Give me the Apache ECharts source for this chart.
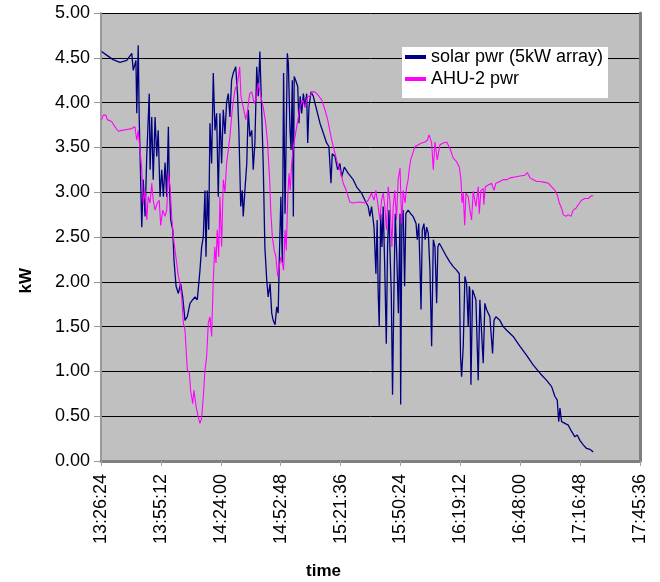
<!DOCTYPE html>
<html>
<head>
<meta charset="utf-8">
<script src="https://cdn.jsdelivr.net/npm/echarts@6/dist/echarts.min.js"></script>
<style>
	html, body { margin: 0; padding: 0; background: #fff; }
	#main { width: 660px; height: 582px; }
</style>
</head>
<body>
<div id="main"></div>
<script>
// times are minutes after 13:00, values in kW
var solarMin = [26.7, 29.1, 32.2, 35.5, 38.8, 41.2, 41.9, 43.2, 43.6, 44.3, 44.8, 46.0, 46.7, 47.6, 48.4, 49.6, 50.0, 50.8, 51.5, 52.4,
	53.2, 53.9, 54.8, 55.6, 56.4, 57.2, 58.0, 58.8, 59.2, 59.9, 60.9, 61.5, 62.5, 63.6, 64.7, 65.7, 66.8, 67.9, 69.2, 70.5,
	71.6, 72.7, 74.0, 74.8, 75.6, 76.4, 76.9, 77.5, 78.2, 78.8, 79.6, 80.4, 81.2, 82.0, 82.8, 83.6, 84.4, 85.2, 86.0, 86.8,
	87.6, 88.4, 89.2, 90.0, 91.2, 92.1, 92.7, 93.6, 94.3, 94.8, 95.6, 96.5, 97.2, 98.0, 98.9, 99.6, 100.4, 101.3, 102.0, 102.8,
	103.7, 104.4, 105.2, 106.1, 106.8, 107.7, 108.5, 109.2, 110.1, 110.9, 111.6, 112.1, 112.9, 113.6, 114.2, 114.9, 115.5, 116.0, 116.5, 117.3,
	117.8, 118.4, 118.9, 119.3, 120.0, 121.0, 121.6, 122.2, 122.9, 123.7, 124.5, 125.3, 125.8, 126.4, 127.4, 128.5, 130.1, 131.7, 133.3, 134.9,
	136.0, 137.0, 137.6, 138.9, 140.2, 141.3, 142.1, 143.4, 145.3, 147.7, 149.3, 151.7, 153.3, 154.9, 155.7, 156.5, 157.7, 158.6, 159.2, 159.7,
	160.2, 160.9, 161.5, 162.1, 162.8, 163.6, 164.2, 164.9, 165.4, 166.0, 166.6, 167.3, 167.9, 168.6, 169.4, 170.2, 170.5, 171.1, 171.7, 172.4,
	173.0, 174.1, 175.3, 176.5, 177.9, 178.5, 179.2, 179.8, 180.3, 180.9, 181.7, 182.3, 183.0, 183.8, 184.6, 185.4, 186.2, 187.0, 187.8, 188.4,
	189.1, 191.0, 192.6, 194.2, 195.8, 197.4, 198.7, 199.3, 199.8, 200.6, 201.4, 202.2, 203.0, 203.5, 203.8, 204.3, 205.1, 205.9, 206.7, 207.8,
	208.6, 209.4, 210.2, 211.0, 211.8, 212.6, 213.4, 214.2, 214.7, 215.4, 216.3, 218.2, 219.8, 221.5, 224.6, 227.9, 231.1, 234.3, 237.5, 240.7,
	243.1, 244.7, 245.8, 246.5, 247.1, 247.9, 249.5, 251.1, 252.7, 254.3, 255.4, 256.7, 258.3, 259.9, 261.5, 263.1];
var solarKw = [4.57, 4.53, 4.48, 4.45, 4.47, 4.55, 4.36, 4.47, 3.88, 4.64, 3.80, 2.61, 3.14, 2.73, 3.40, 4.10, 3.25, 3.84, 3.14, 3.84,
	3.40, 3.69, 2.95, 3.25, 2.95, 3.33, 2.95, 3.73, 3.17, 2.69, 2.58, 2.24, 1.95, 1.87, 1.98, 1.83, 1.57, 1.61, 1.76, 1.80,
	1.83, 1.80, 2.13, 2.39, 2.50, 3.02, 2.28, 3.02, 2.58, 3.77, 3.32, 4.33, 3.69, 3.88, 2.95, 3.88, 3.32, 3.92, 3.65, 4.00,
	4.10, 3.84, 4.25, 4.33, 4.40, 4.07, 3.69, 2.84, 3.02, 2.73, 3.02, 3.32, 3.92, 3.62, 3.69, 3.25, 3.55, 4.40, 4.07, 4.57,
	3.88, 3.32, 2.39, 2.02, 1.83, 1.98, 1.65, 1.57, 1.52, 1.72, 1.65, 2.21, 2.95, 2.21, 4.33, 2.76, 3.69, 4.55, 4.44, 3.69,
	3.47, 4.25, 2.73, 4.29, 4.25, 4.18, 3.77, 4.07, 3.88, 4.10, 3.95, 4.10, 3.55, 3.95, 4.12, 4.07, 3.92, 3.77, 3.66, 3.55,
	3.51, 3.10, 3.43, 3.40, 3.25, 3.32, 3.17, 3.28, 3.21, 3.14, 3.06, 2.99, 2.91, 2.84, 2.73, 2.84, 2.61, 2.09, 2.69, 1.87,
	1.50, 2.76, 2.39, 2.84, 2.21, 1.31, 2.39, 2.80, 2.32, 1.87, 0.74, 1.95, 2.76, 2.32, 1.65, 2.76, 0.63, 2.69, 2.80, 1.95,
	2.76, 2.80, 2.76, 2.73, 2.65, 2.47, 2.65, 2.17, 1.69, 2.58, 2.65, 2.47, 2.61, 2.54, 2.13, 1.28, 2.47, 2.39, 1.76, 2.39,
	2.43, 2.35, 2.28, 2.22, 2.17, 2.13, 2.09, 1.16, 0.94, 1.28, 2.06, 1.98, 1.50, 1.95, 1.91, 0.85, 1.91, 1.93, 1.80, 0.90,
	1.80, 1.78, 1.09, 1.76, 1.69, 1.69, 1.61, 1.59, 1.20, 1.57, 1.61, 1.57, 1.50, 1.46, 1.39, 1.28, 1.18, 1.07, 0.98, 0.90,
	0.83, 0.72, 0.68, 0.44, 0.59, 0.44, 0.42, 0.40, 0.33, 0.27, 0.29, 0.23, 0.18, 0.14, 0.13, 0.10];

var ahuMin = [26.7, 27.5, 28.8, 29.4, 31.5, 33.1, 34.7, 36.4, 38.8, 41.2, 42.7, 43.6, 44.3, 45.2, 46.0, 46.7, 47.6, 48.4, 49.1, 50.0,
	50.8, 51.5, 52.4, 53.5, 54.4, 55.1, 56.1, 57.2, 58.0, 58.8, 59.6, 60.4, 61.2, 62.0, 62.8, 63.6, 64.4, 65.2, 66.0, 66.8,
	67.9, 68.9, 69.5, 70.5, 71.1, 72.1, 73.2, 74.0, 74.8, 75.6, 76.4, 77.2, 78.0, 78.8, 79.6, 80.4, 81.1, 81.7, 82.3, 83.0,
	83.6, 84.4, 85.2, 86.0, 86.8, 87.6, 88.4, 89.5, 90.8, 92.1, 93.1, 93.7, 94.8, 96.0, 96.9, 97.9, 98.9, 100.1, 101.3, 102.0,
	103.3, 104.4, 105.6, 106.5, 107.5, 108.1, 108.8, 109.7, 110.5, 111.4, 112.1, 112.9, 113.6, 114.2, 114.9, 115.5, 116.2, 116.8, 117.4, 118.1,
	118.9, 119.7, 120.5, 121.3, 122.1, 123.2, 124.5, 125.8, 126.9, 128.0, 129.3, 130.9, 132.5, 134.1, 135.4, 137.0, 138.1, 139.7, 141.3, 142.9,
	144.5, 146.1, 147.7, 148.5, 150.9, 153.3, 154.9, 156.5, 157.7, 158.6, 159.7, 160.5, 161.3, 162.1, 162.9, 163.7, 164.5, 165.3, 166.3, 166.9,
	167.7, 168.5, 169.3, 170.2, 171.0, 171.7, 172.6, 173.4, 174.1, 174.6, 175.3, 176.3, 177.4, 179.0, 180.6, 182.2, 183.3, 184.2, 185.4, 186.2,
	187.0, 188.1, 189.4, 191.0, 192.6, 194.2, 195.8, 197.4, 198.7, 199.5, 200.0, 200.6, 201.3, 201.9, 203.0, 203.8, 204.6, 205.4, 206.7, 207.8,
	208.3, 209.1, 210.2, 210.5, 211.2, 212.6, 214.2, 215.4, 216.3, 218.2, 219.8, 221.5, 223.1, 225.5, 227.9, 230.3, 231.4, 232.7, 234.3, 235.9,
	237.5, 239.9, 241.5, 243.1, 244.7, 245.8, 246.8, 247.9, 248.7, 250.0, 251.1, 252.4, 253.5, 254.8, 255.9, 257.5, 259.1, 260.7, 262.3, 263.1];
var ahuKw = [3.81, 3.86, 3.86, 3.81, 3.79, 3.73, 3.68, 3.69, 3.70, 3.71, 3.73, 3.58, 3.69, 3.47, 3.25, 2.88, 3.02, 2.69, 2.95, 2.88,
	3.10, 2.91, 2.80, 2.88, 2.91, 2.63, 2.80, 2.73, 2.80, 3.21, 3.06, 2.73, 2.50, 2.35, 2.21, 2.06, 1.98, 1.83, 1.54, 1.46,
	1.02, 0.98, 0.79, 0.64, 0.79, 0.61, 0.49, 0.42, 0.48, 0.72, 1.02, 1.16, 1.54, 1.61, 1.39, 2.02, 2.39, 2.21, 2.58, 2.28,
	2.95, 2.39, 3.14, 3.00, 3.32, 3.47, 3.62, 3.92, 4.14, 4.22, 4.40, 4.07, 3.95, 3.81, 3.92, 4.10, 4.12, 3.99, 4.07, 4.22,
	4.07, 3.95, 3.77, 3.55, 3.14, 2.76, 2.50, 2.35, 2.28, 2.06, 2.04, 2.28, 2.21, 2.13, 2.58, 2.35, 2.95, 3.21, 3.02, 3.32,
	3.51, 3.62, 3.73, 3.84, 3.95, 4.03, 3.95, 4.07, 4.07, 4.12, 4.12, 4.08, 4.03, 3.92, 3.81, 3.62, 3.51, 3.36, 3.25, 3.10,
	3.01, 2.89, 2.88, 2.88, 2.89, 2.88, 2.91, 2.99, 2.91, 3.02, 2.84, 2.69, 2.91, 2.99, 2.84, 2.58, 3.06, 2.91, 2.39, 2.84,
	3.02, 2.69, 3.14, 3.27, 2.65, 3.02, 2.88, 3.06, 3.14, 3.25, 3.36, 3.43, 3.51, 3.53, 3.55, 3.56, 3.58, 3.64, 3.55, 3.25,
	3.56, 3.36, 3.53, 3.55, 3.56, 3.49, 3.38, 3.34, 3.28, 3.14, 2.88, 2.99, 2.63, 2.99, 2.95, 2.80, 2.69, 3.01, 2.84, 3.06,
	2.76, 3.02, 3.04, 2.86, 3.06, 3.08, 3.10, 3.02, 3.10, 3.12, 3.14, 3.14, 3.16, 3.17, 3.18, 3.19, 3.22, 3.16, 3.14, 3.12,
	3.12, 3.11, 3.10, 3.06, 3.02, 2.97, 2.88, 2.82, 2.75, 2.73, 2.75, 2.73, 2.80, 2.82, 2.86, 2.91, 2.93, 2.93, 2.96, 2.96];

var seriesNames = ['solar pwr (5kW array)', 'AHU-2 pwr'];
var xStart = 48384;   // 13:26:24 in seconds of day
var xEnd = 63936;     // 17:45:36
var xStep = 1728;     // 28:48

function toPairs(mins, vals) {
	var out = [];
	for (var i = 0; i < mins.length; i++) {
		out.push([46800 + mins[i] * 60, vals[i]]);
	}
	return out;
}

function pad2(n) {
	return (n < 10 ? '0' : '') + n;
}

function clock(sec) {
	sec = Math.round(sec);
	var h = Math.floor(sec / 3600);
	var m = Math.floor((sec % 3600) / 60);
	var s = sec % 60;
	return h + ':' + pad2(m) + ':' + pad2(s);
}

var font = 'Liberation Sans, Arial, sans-serif';
var myChart = echarts.init(document.getElementById('main'));
var option = {
	animation: false,
	backgroundColor: '#ffffff',
	grid: {
		left: 101,
		right: 20,
		top: 13,
		bottom: 121,
		show: true,
		backgroundColor: '#c0c0c0',
		borderWidth: 0
	},
	legend: {
		data: seriesNames,
		orient: 'vertical',
		left: 402,
		top: 47,
		backgroundColor: '#ffffff',
		padding: [1, 5, 10, 3],
		itemGap: 4,
		itemWidth: 21,
		itemHeight: 4,
		icon: 'rect',
		textStyle: {
			fontFamily: font,
			fontSize: 18,
			color: '#000',
			lineHeight: 18
		}
	},
	xAxis: {
		type: 'value',
		min: xStart,
		max: xEnd,
		interval: xStep,
		axisLine: { show: true, onZero: false, lineStyle: { color: '#808080', width: 3 } },
		axisTick: { show: true, length: 5, lineStyle: { color: '#a0a0a0', width: 1 } },
		axisLabel: {
			rotate: 90,
			margin: 13,
			fontFamily: font,
			fontSize: 18,
			color: '#000',
			formatter: function(v) { return clock(v); }
		},
		splitLine: { show: false }
	},
	yAxis: [{
		type: 'value',
		min: 0,
		max: 5,
		interval: 0.5,
		axisLine: { show: true, lineStyle: { color: '#999999', width: 2 } },
		axisTick: { show: true, length: 7, lineStyle: { color: '#999999', width: 1 } },
		axisLabel: {
			margin: 11,
			fontFamily: font,
			fontSize: 18,
			color: '#000',
			formatter: function(v) { return v.toFixed(2); }
		},
		splitLine: { show: true, lineStyle: { color: '#000000', width: 1 } }
	}, {
		type: 'value',
		position: 'right',
		min: 0,
		max: 5,
		interval: 0.5,
		axisLine: { show: true, lineStyle: { color: '#808080', width: 3 } },
		axisTick: { show: false },
		axisLabel: { show: false },
		splitLine: { show: false }
	}],
	graphic: [{
		type: 'text',
		left: 18,
		top: 268,
		rotation: Math.PI / 2,
		style: { text: 'kW', font: 'bold 17px ' + font, fill: '#000' }
	}, {
		type: 'text',
		left: 306,
		top: 563,
		style: { text: 'time', font: 'bold 17px ' + font, fill: '#000' }
	}],
	series: [{
		name: seriesNames[0],
		type: 'line',
		showSymbol: false,
		symbol: 'none',
		color: '#000080',
		lineStyle: { color: '#000080', width: 1.3 },
		data: toPairs(solarMin, solarKw)
	}, {
		name: seriesNames[1],
		type: 'line',
		showSymbol: false,
		symbol: 'none',
		color: '#ff00ff',
		lineStyle: { color: '#ff00ff', width: 1.1 },
		data: toPairs(ahuMin, ahuKw)
	}]
};
myChart.setOption(option);
</script>
</body>
</html>
